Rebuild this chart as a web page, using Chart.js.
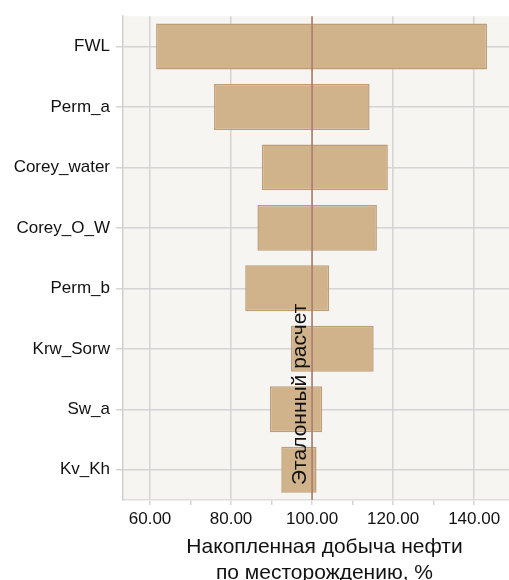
<!DOCTYPE html>
<html>
<head>
<meta charset="utf-8">
<script src="https://cdn.jsdelivr.net/npm/chart.js@4"></script>
<style>
  html, body { margin: 0; padding: 0; background: #fff; overflow: hidden; }
  #wrap { width: 530px; height: 590px; }
</style>
</head>
<body>
<div id="wrap"><canvas id="tornado"></canvas></div>
<script>
var params = ['FWL', 'Perm_a', 'Corey_water', 'Corey_O_W', 'Perm_b', 'Krw_Sorw', 'Sw_a', 'Kv_Kh'];
var lowValues = [61.5, 75.8, 87.6, 86.5, 83.5, 94.8, 89.6, 92.4];
var highValues = [143.2, 114.2, 118.7, 116.0, 104.2, 115.2, 102.5, 101.1];
var baseValue = 100;
var baseLabel = 'Эталонный расчет';
var xTitle = ['Накопленная добыча нефти', 'по месторождению, %'];

var fontFamily = "'Liberation Sans', Arial, sans-serif";
var gridGray = '#d4d4d4';

// plot background
var plotBg = {
    id: 'plotBg',
    beforeDraw: function(chart) {
        var a = chart.chartArea, ctx = chart.ctx;
        ctx.save();
        ctx.fillStyle = '#f6f5f2';
        ctx.fillRect(a.left, a.top, a.right - a.left, a.bottom - a.top);
        ctx.restore();
    }
};

// reference line + rotated label
var baseLine = {
    id: 'baseLine',
    afterDatasetsDraw: function(chart) {
        var a = chart.chartArea, ctx = chart.ctx;
        var x = chart.scales.x.getPixelForValue(baseValue);
        ctx.save();
        ctx.strokeStyle = '#a8786c';
        ctx.lineWidth = 1.5;
        ctx.beginPath();
        ctx.moveTo(x, a.top);
        ctx.lineTo(x, a.bottom);
        ctx.stroke();
        ctx.translate(x - 1, a.bottom - 15);
        ctx.rotate(-Math.PI / 2);
        ctx.fillStyle = '#111';
        ctx.font = '21px ' + fontFamily;
        ctx.textAlign = 'left';
        ctx.textBaseline = 'bottom';
        ctx.fillText(baseLabel, 0, 0);
        ctx.restore();
    }
};

new Chart(document.getElementById('tornado'), {
    type: 'bar',
    data: {
        labels: params,
        datasets: [{
            label: 'Накопленная добыча',
            data: params.map((p, i) => [lowValues[i], highValues[i]]),
            backgroundColor: 'rgb(209, 179, 139)',
            borderColor: 'rgb(190, 158, 120)',
            borderWidth: 1.5,
            borderSkipped: false,
            barPercentage: 0.76,
            categoryPercentage: 1
        }]
    },
    options: {
        indexAxis: 'y',
        responsive: true,
        maintainAspectRatio: false,
        animation: false,
        layout: { padding: { top: 15, left: 0, right: 4, bottom: 0 } },
        plugins: {
            legend: { display: false },
            tooltip: { enabled: false }
        },
        scales: {
            x: {
                min: 53.33,
                max: 152.8,
                ticks: {
                    stepSize: 10,
                    includeBounds: false,
                    color: '#111',
                    font: { family: fontFamily, size: 17 },
                    padding: 4,
                    maxRotation: 0,
                    autoSkip: false,
                    callback: function(v) { return v % 20 === 0 ? v.toFixed(2) : ''; }
                },
                grid: {
                    color: function(c) { return c.tick && c.tick.value % 20 === 0 ? gridGray : 'rgba(0,0,0,0)'; },
                    tickColor: gridGray,
                    lineWidth: 1.5,
                    tickLength: 5
                },
                border: { color: '#dcdcdc', width: 1.5 },
                title: {
                    display: true,
                    text: xTitle,
                    color: '#111',
                    font: { family: fontFamily, size: 21, lineHeight: 1.2 },
                    padding: { top: 0, bottom: 4.5 }
                },
                afterFit: function(scale) { scale.height = 90; }
            },
            y: {
                ticks: {
                    color: '#111',
                    font: { family: fontFamily, size: 17 },
                    padding: 6
                },
                grid: {
                    offset: false,
                    color: gridGray,
                    lineWidth: 1.5,
                    tickLength: 7
                },
                border: { color: '#cfcfcf', width: 1.5 },
                afterFit: function(scale) { scale.width = 123; }
            }
        }
    },
    plugins: [plotBg, baseLine]
});
</script>
</body>
</html>
